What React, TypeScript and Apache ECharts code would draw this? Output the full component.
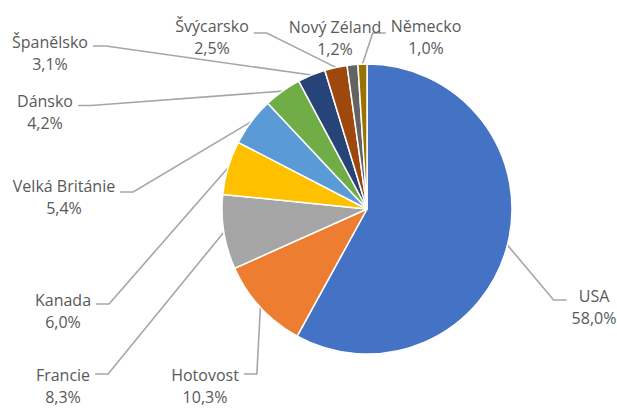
import React, { useEffect, useRef } from "react";
import * as echarts from "echarts";

const categories = [
  "USA",
  "Hotovost",
  "Francie",
  "Kanada",
  "Velká Británie",
  "Dánsko",
  "Španělsko",
  "Švýcarsko",
  "Nový Zéland",
  "Německo",
];
const values = [58.0, 10.3, 8.3, 6.0, 5.4, 4.2, 3.1, 2.5, 1.2, 1.0];
const colors = [
  "#4472C4",
  "#ED7D31",
  "#A5A5A5",
  "#FFC000",
  "#5B9BD5",
  "#70AD47",
  "#264478",
  "#9E480E",
  "#636363",
  "#997300",
];

// label layout (centre x of text block, centre y of first line, y of leader attachment)
const labelX = [594, 205, 63, 63, 64, 45, 50, 212, 335, 426];
const labelY = [296, 375, 375, 300, 186, 101, 42.5, 26.5, 27, 26.5];
const attachY = [300, 374, 374, 304, 192, 105.5, 46, 33, null, 33];
const LINE_H = 22;
const GAP = 5;
const STUB = 13;

export default function App() {
  const ref = useRef<HTMLDivElement>(null);
  useEffect(() => {
    if (!ref.current) return;
    const chart = echarts.init(ref.current, null, { renderer: "svg" });
    const data = categories.map((name, i) => ({
      name,
      value: values[i],
      itemStyle: { color: colors[i] },
      labelLine: { show: attachY[i] != null },
    }));
    chart.setOption({
      animation: false,
      backgroundColor: "#ffffff",
      series: [
        {
          type: "pie",
          center: [367, 209],
          radius: 145,
          startAngle: 90,
          clockwise: true,
          avoidLabelOverlap: false,
          silent: true,
          data,
          itemStyle: { borderColor: "#ffffff", borderWidth: 1.5 },
          label: {
            show: true,
            position: "outer",
            overflow: "none",
            color: "#595959",
            fontFamily: "Open Sans",
            fontSize: 16,
            lineHeight: LINE_H,
            formatter: (p: any) =>
              `${p.name}\n${Number(p.value).toFixed(1).replace(".", ",")}%`,
          },
          labelLine: {
            show: true,
            length: 10,
            length2: 10,
            lineStyle: { color: "#A6A6A6", width: 1.6 },
          },
          labelLayout: (params: any) => {
            const i = params.dataIndex;
            const w = params.labelRect.width;
            const cx = labelX[i];
            const cy = labelY[i] + LINE_H / 2 - 0.5;
            const res: any = {
              x: cx,
              y: cy,
              align: "center",
              verticalAlign: "middle",
            };
            const pts = params.labelLinePoints;
            const ay = attachY[i];
            if (pts && ay != null) {
              const p0 = pts[0];
              const toRight = cx < p0[0];
              const endX = toRight ? cx + w / 2 + GAP : cx - w / 2 - GAP;
              const elbowX = toRight ? endX + STUB : endX - STUB;
              res.labelLinePoints = [
                [p0[0], p0[1]],
                [elbowX, ay],
                [endX, ay],
              ];
            }
            return res;
          },
        },
      ],
    });
    return () => chart.dispose();
  }, []);
  return (
    <div
      ref={ref}
      style={{ position: "fixed", left: 0, top: 0, width: 617, height: 408 }}
    />
  );
}
